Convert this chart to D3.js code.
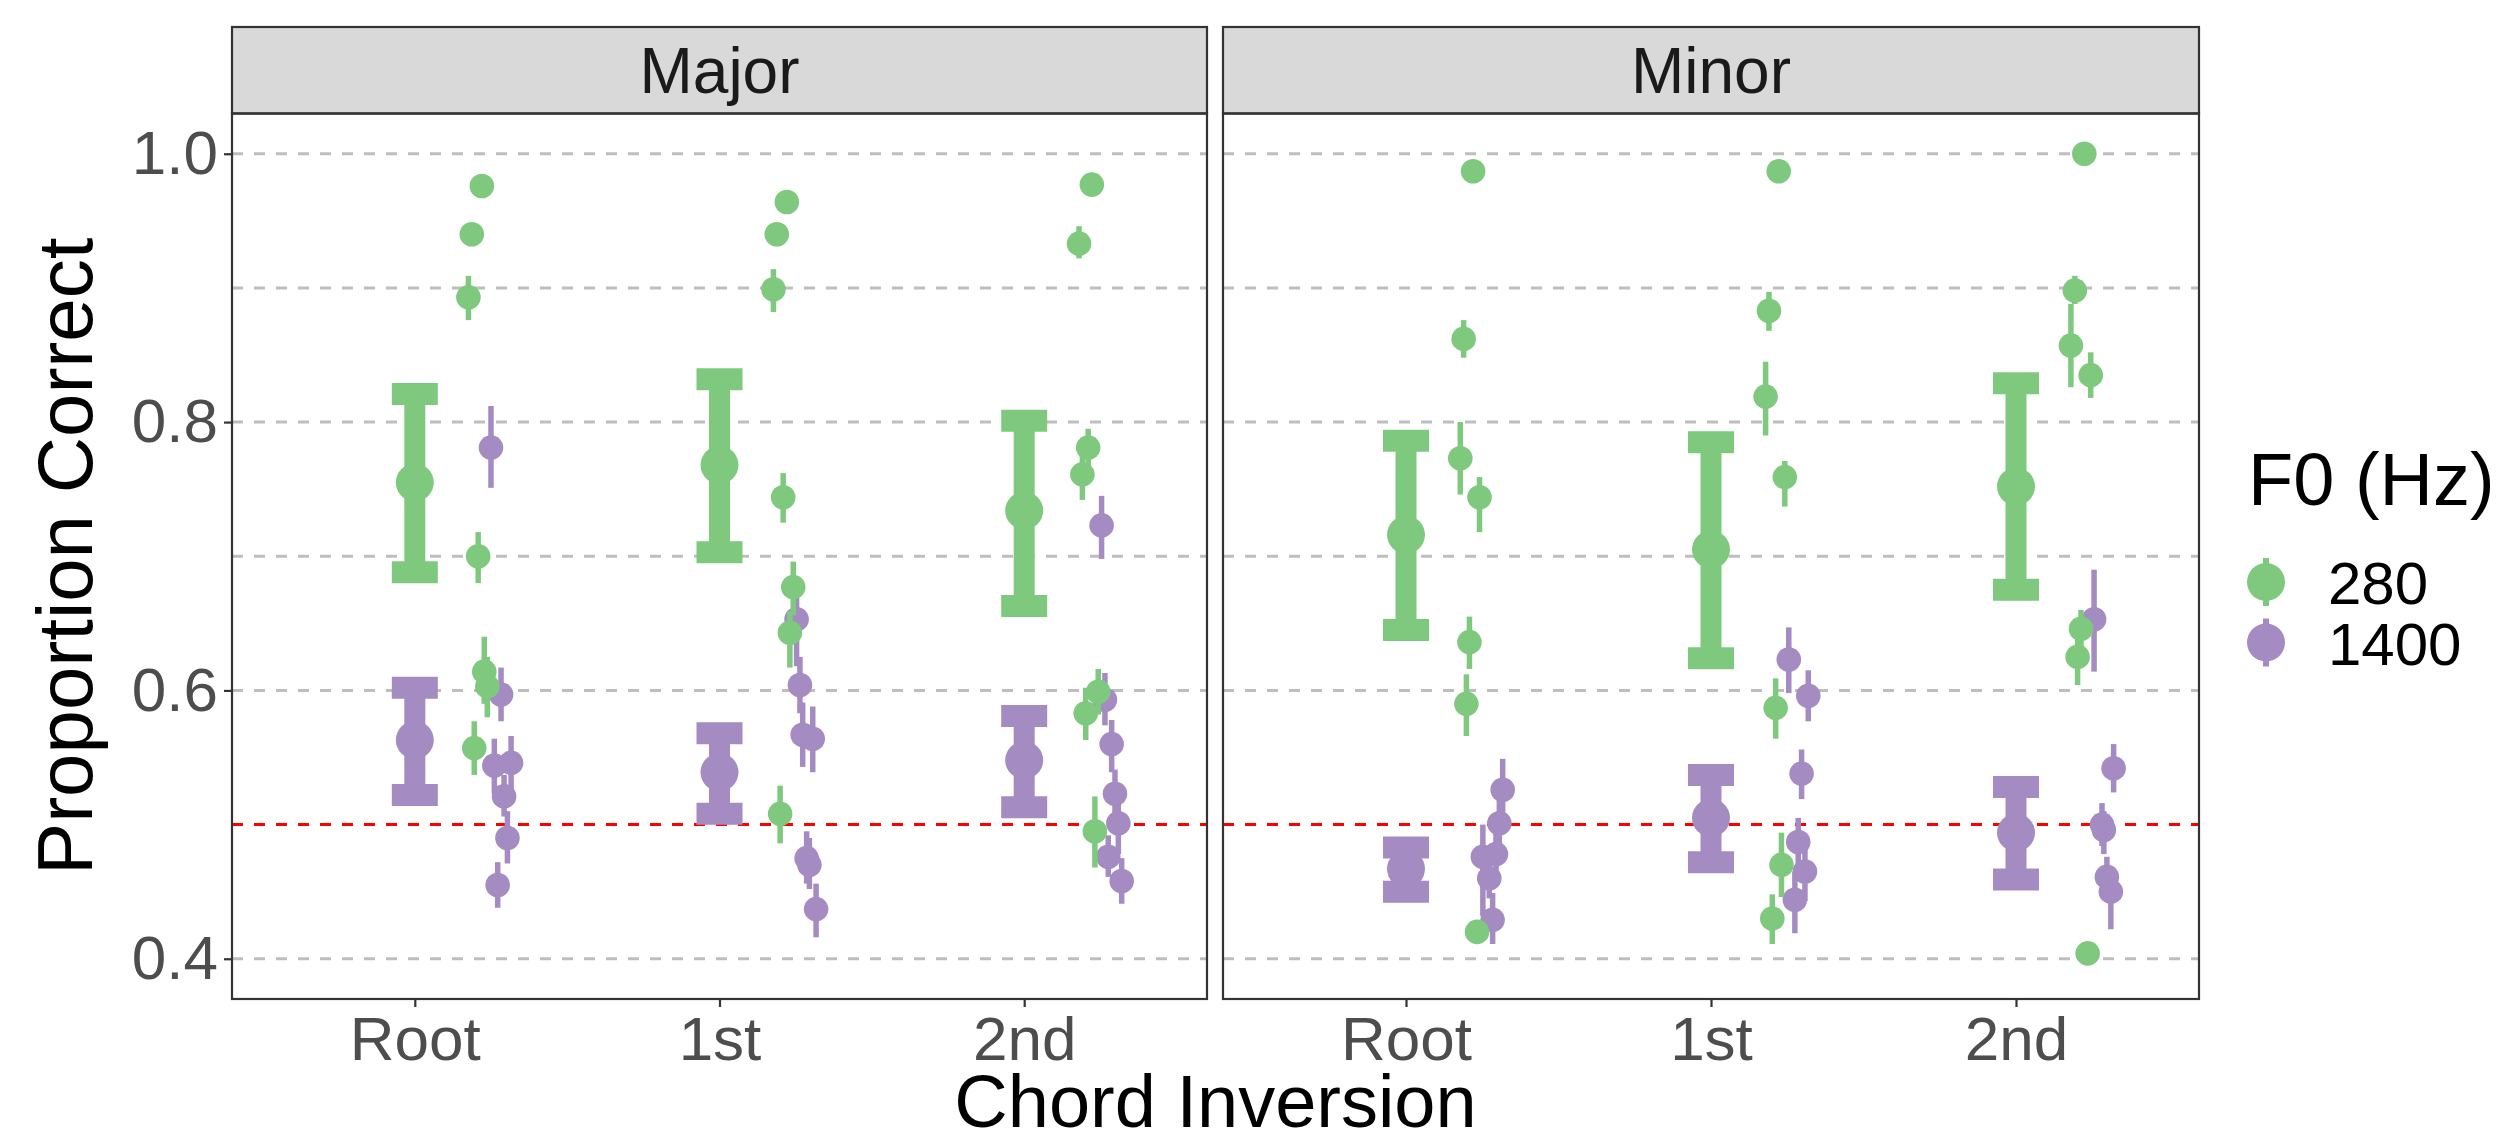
<!DOCTYPE html>
<html>
<head>
<meta charset="utf-8">
<script src="https://cdn.jsdelivr.net/npm/d3@7"></script>
<style>
  html, body { margin: 0; padding: 0; background: #fff; }
  svg { display: block; font-family: 'Liberation Sans', Arial, sans-serif; }
</style>
</head>
<body>
<svg id="chart" width="2507" height="1142"></svg>
<script>
const facets = ['Major', 'Minor'];
const inversions = ['Root', '1st', '2nd'];
const f0Levels = ['280', '1400'];
const yTicks = [0.4, 0.6, 0.8, 1.0];
const gridValues = [0.4, 0.5, 0.6, 0.7, 0.8, 0.9, 1.0];
const chance = 0.5;

// group summaries per inversion: [mean, lower, upper]
const major280 = [[0.755, 0.688, 0.821], [0.768, 0.703, 0.832], [0.734, 0.663, 0.801]];
const major1400 = [[0.563, 0.522, 0.602], [0.539, 0.508, 0.568], [0.548, 0.513, 0.581]];
const minor280 = [[0.716, 0.645, 0.786], [0.705, 0.624, 0.785], [0.752, 0.675, 0.829]];
const minor1400 = [[0.467, 0.450, 0.483], [0.505, 0.472, 0.537], [0.494, 0.459, 0.528]];

// single listeners: [proportion, lower, upper, jitter (in category steps)]
const majorRoot280 = [[0.976, 0.976, 0.976, 0.220], [0.940, 0.940, 0.940, 0.187], [0.893, 0.876, 0.909, 0.176],
  [0.700, 0.680, 0.718, 0.208], [0.614, 0.590, 0.640, 0.228], [0.603, 0.580, 0.625, 0.238], [0.557, 0.537, 0.577, 0.195]];
const majorRoot1400 = [[0.781, 0.751, 0.812, 0.250], [0.597, 0.577, 0.617, 0.283], [0.544, 0.523, 0.564, 0.261],
  [0.546, 0.525, 0.566, 0.316], [0.521, 0.506, 0.537, 0.293], [0.490, 0.471, 0.510, 0.304], [0.455, 0.438, 0.472, 0.272]];
const major1st280 = [[0.964, 0.964, 0.964, 0.221], [0.940, 0.940, 0.940, 0.188], [0.899, 0.882, 0.914, 0.177],
  [0.744, 0.725, 0.762, 0.209], [0.677, 0.656, 0.696, 0.242], [0.643, 0.617, 0.659, 0.231], [0.508, 0.486, 0.529, 0.199]];
const major1st1400 = [[0.653, 0.618, 0.683, 0.253], [0.604, 0.583, 0.625, 0.264], [0.567, 0.543, 0.591, 0.273],
  [0.564, 0.539, 0.588, 0.306], [0.475, 0.456, 0.495, 0.286], [0.470, 0.452, 0.490, 0.295], [0.437, 0.416, 0.456, 0.317]];
const major2nd280 = [[0.977, 0.977, 0.977, 0.222], [0.933, 0.922, 0.946, 0.180], [0.781, 0.767, 0.795, 0.210],
  [0.761, 0.742, 0.775, 0.191], [0.599, 0.582, 0.616, 0.243], [0.583, 0.563, 0.602, 0.202], [0.495, 0.468, 0.521, 0.232]];
const major2nd1400 = [[0.723, 0.698, 0.745, 0.254], [0.593, 0.574, 0.613, 0.265], [0.560, 0.539, 0.578, 0.287],
  [0.523, 0.503, 0.541, 0.298], [0.501, 0.478, 0.519, 0.309], [0.476, 0.461, 0.492, 0.276], [0.458, 0.441, 0.475, 0.320]];
const minorRoot280 = [[0.987, 0.987, 0.987, 0.220], [0.862, 0.848, 0.876, 0.189], [0.773, 0.746, 0.800, 0.178],
  [0.744, 0.718, 0.759, 0.241], [0.636, 0.616, 0.655, 0.208], [0.590, 0.566, 0.612, 0.198], [0.420, 0.420, 0.420, 0.233]];
const minorRoot1400 = [[0.526, 0.505, 0.549, 0.317], [0.501, 0.481, 0.521, 0.306], [0.478, 0.463, 0.494, 0.295],
  [0.476, 0.432, 0.500, 0.252], [0.460, 0.445, 0.475, 0.273], [0.429, 0.411, 0.449, 0.284]];
const minor1st280 = [[0.987, 0.987, 0.987, 0.222], [0.883, 0.868, 0.897, 0.190], [0.819, 0.790, 0.845, 0.179],
  [0.759, 0.737, 0.771, 0.242], [0.587, 0.564, 0.609, 0.212], [0.470, 0.446, 0.494, 0.231], [0.430, 0.411, 0.448, 0.201]];
const minor1st1400 = [[0.623, 0.598, 0.647, 0.255], [0.596, 0.577, 0.615, 0.319], [0.538, 0.519, 0.556, 0.297],
  [0.487, 0.465, 0.505, 0.286], [0.465, 0.443, 0.486, 0.308], [0.444, 0.419, 0.465, 0.275]];
const minor2nd280 = [[1.000, 1.000, 1.000, 0.224], [0.898, 0.888, 0.909, 0.193], [0.857, 0.826, 0.888, 0.180],
  [0.835, 0.818, 0.852, 0.245], [0.646, 0.630, 0.660, 0.213], [0.625, 0.604, 0.638, 0.202], [0.404, 0.404, 0.404, 0.235]];
const minor2nd1400 = [[0.653, 0.614, 0.690, 0.256], [0.542, 0.524, 0.560, 0.320], [0.500, 0.484, 0.516, 0.282],
  [0.496, 0.478, 0.510, 0.288], [0.461, 0.446, 0.476, 0.298], [0.450, 0.422, 0.468, 0.311]];

const summaries = {
  Major: { '280': major280, '1400': major1400 },
  Minor: { '280': minor280, '1400': minor1400 }
};
const listeners = {
  Major: { '280': [majorRoot280, major1st280, major2nd280], '1400': [majorRoot1400, major1st1400, major2nd1400] },
  Minor: { '280': [minorRoot280, minor1st280, minor2nd280], '1400': [minorRoot1400, minor1st1400, minor2nd1400] }
};

const color = d3.scaleOrdinal()
  .domain(f0Levels)
  .range(['#7FC97F', '#A48BC1']);

const svg = d3.select('#chart');
const panelTop = 113.5, panelBottom = 999, stripTop = 27;
const panelX = [[232, 1207], [1223, 2199]];

const y = d3.scaleLinear()
  .domain([0.37, 1.03])
  .range([panelBottom, panelTop]);

const textFont = 62;

facets.forEach((facet, fi) => {
  const [x0, x1] = panelX[fi];
  const x = d3.scalePoint()
    .domain(inversions)
    .range([x0, x1])
    .padding(0.6);
  const step = x.step();

  // strip
  svg.append('rect')
    .attr('x', x0).attr('y', stripTop)
    .attr('width', x1 - x0).attr('height', panelTop - stripTop)
    .attr('fill', '#D9D9D9')
    .attr('stroke', '#333333')
    .attr('stroke-width', 2.2);
  svg.append('text')
    .attr('x', (x0 + x1) / 2)
    .attr('y', (stripTop + panelTop) / 2 + 23)
    .attr('text-anchor', 'middle')
    .attr('font-size', 64)
    .attr('fill', '#1A1A1A')
    .text(facet);

  const g = svg.append('g');

  // grid
  g.selectAll('line.grid')
    .data(gridValues)
    .join('line')
    .attr('class', 'grid')
    .attr('x1', x0).attr('x2', x1)
    .attr('y1', d => y(d)).attr('y2', d => y(d))
    .attr('stroke', '#BEBEBE')
    .attr('stroke-width', 3)
    .attr('stroke-dasharray', '11,11');

  g.append('line')
    .attr('x1', x0).attr('x2', x1)
    .attr('y1', y(chance)).attr('y2', y(chance))
    .attr('stroke', '#FF0000')
    .attr('stroke-width', 3)
    .attr('stroke-dasharray', '11,11');

  // group summaries: thick error bars with a large point
  f0Levels.forEach(level => {
    const rows = summaries[facet][level].map((d, i) => ({ inv: inversions[i], mean: d[0], lo: d[1], hi: d[2] }));
    const sg = g.append('g').attr('stroke', color(level)).attr('fill', color(level));
    sg.selectAll('line.stem')
      .data(rows)
      .join('line')
      .attr('x1', d => x(d.inv)).attr('x2', d => x(d.inv))
      .attr('y1', d => y(d.lo)).attr('y2', d => y(d.hi))
      .attr('stroke-width', 21);
    ['lo', 'hi'].forEach(k => {
      sg.selectAll('line.cap' + k)
        .data(rows)
        .join('line')
        .attr('x1', d => x(d.inv) - 23).attr('x2', d => x(d.inv) + 23)
        .attr('y1', d => y(d[k])).attr('y2', d => y(d[k]))
        .attr('stroke-width', 22);
    });
    sg.selectAll('circle')
      .data(rows)
      .join('circle')
      .attr('cx', d => x(d.inv))
      .attr('cy', d => y(d.mean))
      .attr('r', 19)
      .attr('stroke', 'none');
  });

  // individual listeners, 1400 first so 280 sits on top
  f0Levels.slice().reverse().forEach(level => {
    const rows = [];
    listeners[facet][level].forEach((list, i) => {
      list.forEach(d => rows.push({ inv: inversions[i], v: d[0], lo: d[1], hi: d[2], dx: d[3] }));
    });
    const pg = g.append('g');
    pg.selectAll('line')
      .data(rows.filter(d => d.hi > d.lo))
      .join('line')
      .attr('x1', d => x(d.inv) + d.dx * step).attr('x2', d => x(d.inv) + d.dx * step)
      .attr('y1', d => y(d.lo)).attr('y2', d => y(d.hi))
      .attr('stroke', color(level))
      .attr('stroke-width', 5.5);
    pg.selectAll('circle')
      .data(rows)
      .join('circle')
      .attr('cx', d => x(d.inv) + d.dx * step)
      .attr('cy', d => y(d.v))
      .attr('r', 12.3)
      .attr('fill', color(level));
  });

  // panel border
  svg.append('rect')
    .attr('x', x0).attr('y', panelTop)
    .attr('width', x1 - x0).attr('height', panelBottom - panelTop)
    .attr('fill', 'none')
    .attr('stroke', '#333333')
    .attr('stroke-width', 2.2);

  // x axis
  const xAxis = svg.append('g')
    .attr('transform', `translate(0,${panelBottom})`)
    .call(d3.axisBottom(x).tickSize(8).tickPadding(9));
  xAxis.select('.domain').remove();
  xAxis.selectAll('line').attr('stroke', '#333333').attr('stroke-width', 2.2);
  xAxis.selectAll('text')
    .attr('font-size', textFont)
    .attr('font-family', 'Liberation Sans, Arial, sans-serif')
    .attr('fill', '#4D4D4D');

  if (fi === 0) {
    const yAxis = svg.append('g')
      .attr('transform', `translate(${x0},0)`)
      .call(d3.axisLeft(y).tickValues(yTicks).tickFormat(d3.format('.1f')).tickSize(8).tickPadding(6));
    yAxis.select('.domain').remove();
    yAxis.selectAll('line').attr('stroke', '#333333').attr('stroke-width', 2.2);
    yAxis.selectAll('text')
      .attr('font-size', textFont)
      .attr('font-family', 'Liberation Sans, Arial, sans-serif')
      .attr('fill', '#4D4D4D');
  }
});

// axis titles
svg.append('text')
  .attr('x', (panelX[0][0] + panelX[1][1]) / 2)
  .attr('y', 1127)
  .attr('text-anchor', 'middle')
  .attr('font-size', 74)
  .attr('fill', '#000')
  .text('Chord Inversion');

svg.append('text')
  .attr('transform', `translate(92,${(panelTop + panelBottom) / 2}) rotate(-90)`)
  .attr('text-anchor', 'middle')
  .attr('font-size', 78)
  .attr('fill', '#000')
  .text('Proportion Correct');

// legend
const legend = svg.append('g').attr('transform', 'translate(2248,0)');
legend.append('text')
  .attr('x', 0).attr('y', 505)
  .attr('font-size', 74)
  .attr('fill', '#000')
  .text('F0 (Hz)');

const keys = legend.selectAll('g.key')
  .data(f0Levels)
  .join('g')
  .attr('class', 'key')
  .attr('transform', (d, i) => `translate(18,${582 + i * 60.5})`);
keys.append('line')
  .attr('y1', -24).attr('y2', 24)
  .attr('stroke', d => color(d))
  .attr('stroke-width', 6);
keys.append('circle')
  .attr('r', 19)
  .attr('fill', d => color(d));
keys.append('text')
  .attr('x', 62).attr('y', 22)
  .attr('font-size', 60)
  .attr('fill', '#000')
  .text(d => d);
</script>
</body>
</html>
